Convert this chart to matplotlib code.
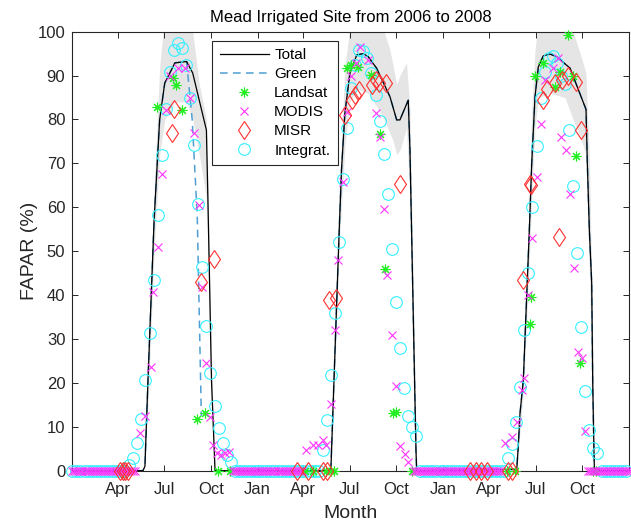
import matplotlib
matplotlib.use("Agg")
import matplotlib.pyplot as plt
import numpy as np

plt.rcParams['font.family'] = ['Liberation Sans', 'DejaVu Sans']

# x axis: days since 2006-01-01
tick_days = [90, 181, 273, 365, 455, 546, 638, 730, 821, 912, 1004]
tick_labels = ['Apr', 'Jul', 'Oct', 'Jan', 'Apr', 'Jul', 'Oct', 'Jan', 'Apr', 'Jul', 'Oct']

# Total FAPAR (black line)
total_days = [0, 139, 143, 149, 161, 172, 182, 202, 225, 237, 264, 267, 274, 281,
              509, 515, 525.5, 530, 536.7, 546.5, 560, 572.8, 582.6, 599, 625.4, 638.6, 645, 661.4, 664.8, 676.6, 678,
              875, 878, 881.4, 888, 899.8, 904.5, 911, 917.5, 927.3, 940.5, 953.7, 979.9, 1011.4, 1014, 1018, 1022.6, 1024.6, 1027, 1028, 1096]
total_vals = [0, 0, 1, 20.7, 57, 80, 88.3, 92.9, 93.2, 90.6, 77.6, 61.6, 20.7, 0,
              0, 20, 54.8, 68.5, 81.5, 90.5, 94.7, 95, 94.3, 91.7, 85.2, 79.9, 79.9, 84.4, 73, 4.7, 0,
              0.3, 5.5, 13, 20.7, 54.8, 70, 85.2, 92, 94.5, 94.9, 94.3, 91.7, 82.3, 70, 54.8, 42.8, 20, 4.7, 0, 0]

# Green FAPAR (dashed), 2006 season departs from total
green_days_2006 = [0, 139, 143, 149, 161, 172, 182, 202, 225, 236, 246, 254]
green_vals_2006 = [0, 0, 1, 20.7, 57, 80, 88.3, 92.9, 93.2, 80, 58, 12.5]

# uncertainty band around total
band_days = [139, 149, 161, 172, 182, 202, 225, 237, 250, 264, 267, 274, 281,
             510, 525, 536.7, 546.5, 560, 582, 599, 614, 625, 632, 638.6, 645, 658, 664.8, 677, 678,
             875, 888, 899.8, 904.5, 911, 917.5, 940, 970, 986, 1000, 1011.4, 1014, 1018, 1024.6, 1028]
band_lo = [0, 15, 50, 72, 80, 84, 84, 80, 72, 62, 50, 15, 0,
           0, 50, 74, 84, 87, 86, 83, 80, 77, 75, 72, 73, 78, 62, 0, 0,
           0, 18, 48, 62, 78, 85, 86, 85, 80, 76, 72, 60, 45, 15, 0]
band_hi = [0, 25, 64, 92, 104, 110, 108, 100, 88, 80, 66, 25, 0,
           0, 62, 92, 101, 106, 106, 102, 100, 96, 92, 88, 90, 93, 82, 6, 0,
           0, 24, 62, 82, 96, 102, 108, 106, 100, 95, 90.5, 82, 72, 30, 0]

# Landsat
landsat_days = [166, 199, 205, 215, 245, 261, 287, 310,
                458, 474, 500, 509, 516,
                540, 548, 563, 589, 606, 615, 632, 638, 668,
                855, 872, 901, 904, 911, 927, 950, 960, 975, 986, 992, 1000, 1026, 1032]
landsat_vals = [82.9, 89.4, 87.9, 82.2, 11.7, 13.1, 0, 0,
                0, 0, 0, 0, 0,
                91.7, 92.5, 92, 90.1, 76.8, 45.9, 13.1, 13.4, 0,
                0, 0, 33.5, 39.5, 89.8, 92.8, 87.5, 90.9, 99.2, 89.8, 71.7, 24.5, 0, 0]

# MODIS: off-season zero readings every 4 days within these spans
modis_zero_spans = [(0, 128), (316, 456), (672, 848), (1016, 1097)]
modis_days = [133, 143, 154, 158, 168, 177, 185, 193, 208, 221, 231, 240, 250, 256, 264, 271, 277, 285, 293, 301, 309,
              461, 474, 484, 494, 500, 510, 517, 524, 533, 540, 548, 558, 566, 583, 598, 606, 614, 620, 629, 637, 645, 655, 661,
              852, 865, 875, 885, 889, 898, 905, 915, 923, 931, 946, 957, 963, 972, 980, 988, 996, 1003, 1009]
modis_vals = [8.5, 12.5, 23.6, 40.6, 51, 67.6, 82.2, 89.8, 91.7, 91.7, 84.8, 76.9, 60.5, 41.8, 24.5, 12.3, 5.9, 4, 3.5, 4, 4.3,
              4.7, 5.9, 5.9, 7, 5.9, 15.3, 32, 48, 65.8, 81.8, 89.8, 92.8, 96.6, 93.5, 81.4, 76.1, 59.5, 44.6, 30.9, 19.3, 5.6, 3.8, 2,
              6.4, 7.6, 11, 18.4, 21, 40, 53, 67, 79, 89, 91.7, 94, 76.1, 73, 63, 46.1, 27.1, 25.6, 9.1]

# MISR
misr_days = [94, 100, 104, 110, 197, 201, 254, 279,
             442, 464, 494, 501, 506, 520, 537, 550, 556, 565, 590, 598, 604, 617, 645,
             783, 795, 805, 816, 858, 865, 888, 902, 904, 926, 934, 950, 959, 965, 975, 992, 1001]
misr_vals = [0, 0, 0, 0, 76.9, 82.5, 43, 48.2,
             0, 0, 0, 0, 38.8, 39.3, 81, 84.4, 85.6, 86.7, 87.9, 89, 88.4, 88.4, 65.2,
             0, 0, 0, 0, 0, 0, 43.4, 65.3, 65, 84.4, 86.9, 88.2, 53.2, 89, 89.8, 88.6, 77.6]

# Integrated (8-day)
integ_days_2006 = list(range(0, 361, 8))
integ_vals_2006 = [0]*14 + [1.3, 3, 6.2, 11.7, 20.7, 31.3, 43.4, 58.2, 72, 82.5, 90.9, 95.8, 97.4, 96.2,
                            92.4, 85, 74.2, 60.8, 46.5, 33, 22.3, 14.7, 9.8, 6.2, 3.6, 2] + [0]*6
integ_days_2007 = list(range(365, 726, 8))
integ_vals_2007 = [0]*16 + [4.7, 11.5, 21.8, 36, 52, 66.4, 78, 87.1, 92.5, 95.8, 95.5, 94, 90.5, 85.6,
                            79.6, 72.1, 63, 50.4, 38.4, 27.9, 18.8, 12.5, 10, 7.9] + [0]*6
integ_days_2008 = list(range(730, 1091, 8))
integ_vals_2008 = [0]*16 + [2.8, 6.1, 11, 19, 32, 45, 60, 74, 84.8, 90.9, 93.9, 94.5, 92.8, 90, 88,
                            77.5, 64.9, 49.5, 32.7, 18.2, 9.3, 5.2, 4] + [0]*7

# ---------------------------------------------------------------
fig = plt.figure(figsize=(6.31, 5.22), dpi=100)
ax = fig.add_axes([0.1146, 0.0983, 0.8822, 0.8410])

ax.fill_between(band_days, band_lo, band_hi, color='#e5e5e5', lw=0, zorder=1)

# green line: 2006 distinct, later seasons identical with total
td = np.array(total_days); tv = np.array(total_vals)
g_days = green_days_2006 + [np.nan] + list(td[td >= 509])
g_vals = green_vals_2006 + [np.nan] + list(tv[td >= 509])
ax.plot(g_days, g_vals, color='#4f9fd4', lw=1.1, ls=(0, (5, 3.5)), zorder=2)
ln_total, = ax.plot(total_days, total_vals, color='black', lw=0.9, zorder=3)
ln_green, = ax.plot([], [], color='#4f9fd4', lw=1.1, ls=(0, (5, 3.5)))

integ_days = integ_days_2006 + integ_days_2007 + integ_days_2008
integ_vals = integ_vals_2006 + integ_vals_2007 + integ_vals_2008
h_int, = ax.plot(integ_days, integ_vals, ls='none', marker='o', ms=8.4, mfc='none',
                 mec='#33f0ff', mew=0.8, clip_on=False, zorder=4)

h_land, = ax.plot(landsat_days, landsat_vals, ls='none', marker=(8, 2, 0), ms=7, mec='#22ee22',
                  mfc='#22ee22', mew=0.8, clip_on=False, zorder=5)

mz_days = []
for a, b in modis_zero_spans:
    mz_days += list(range(a, b, 4))
m_days = mz_days + modis_days
m_vals = [0]*len(mz_days) + modis_vals
h_mod, = ax.plot(m_days, m_vals, ls='none', marker='x', ms=5.5, mec='#ff33ff', mew=0.8,
                 clip_on=False, zorder=6)

h_misr, = ax.plot(misr_days, misr_vals, ls='none', marker='d', ms=9.5, mfc='none',
                  mec='#ff3030', mew=0.8, clip_on=False, zorder=7)

ax.set_xlim(0, 1096)
ax.set_ylim(0, 100)
ax.set_xticks(tick_days)
ax.set_xticklabels(tick_labels)
ax.set_yticks(range(0, 101, 10))
ax.tick_params(direction='in', length=4, width=0.7, top=True, right=True,
               labelsize=12, colors='#262626')
ax.tick_params(axis='x', pad=8)
ax.tick_params(axis='y', pad=5)
for s in ax.spines.values():
    s.set_color('#262626'); s.set_linewidth(0.8)

ax.set_title('Mead Irrigated Site from 2006 to 2008', fontsize=12, color='black', pad=7)
ax.set_xlabel('Month', fontsize=14, color='#262626', labelpad=6)
ax.set_ylabel('FAPAR (%)', fontsize=14, color='#262626', labelpad=0)

leg = ax.legend([ln_total, ln_green, h_land, h_mod, h_misr, h_int],
                ['Total', 'Green', 'Landsat', 'MODIS', 'MISR', 'Integrat.'],
                loc='upper left', bbox_to_anchor=(0.2515, 0.9795), fontsize=11,
                handlelength=3.2, handletextpad=0.35, labelspacing=0.33, borderpad=0.5,
                fancybox=False, framealpha=1, edgecolor='#262626', borderaxespad=0)
leg.get_frame().set_linewidth(0.8)
leg.set_zorder(10)

fig.savefig('out.png', dpi=100)
